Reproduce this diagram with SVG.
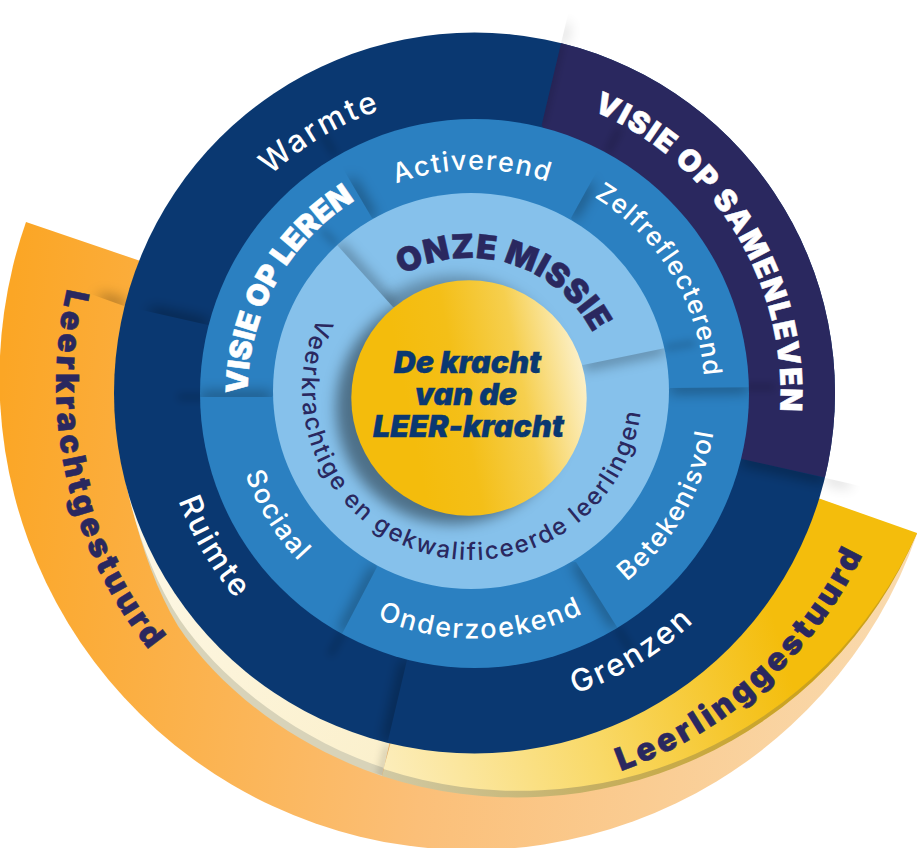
<svg xmlns="http://www.w3.org/2000/svg" width="918" height="848" viewBox="0 0 918 848">
<style>
.sh{stroke:#000;stroke-width:7;stroke-opacity:.5;fill:none;filter:url(#b);stroke-linecap:butt}
.shs{stroke:#000;stroke-width:4;stroke-opacity:.28;fill:none;filter:url(#bs)}
text{font-family:"Inter","Noto Sans","Liberation Sans",sans-serif}
.lab{fill:#fff;font-weight:500;font-size:31px;letter-spacing:2.4px;text-anchor:middle}
.lab2{fill:#fff;font-weight:500;font-size:26px;letter-spacing:1.6px;text-anchor:middle}
.hv{fill:#fff;stroke:#fff;stroke-width:.5px;font-weight:900;font-size:31px;text-anchor:middle}
.pur{fill:#2A285F;stroke:#2A285F;stroke-width:.5px;font-weight:900;font-size:32px;text-anchor:middle}
.mid{fill:#2A285F;font-weight:500;font-size:24px;letter-spacing:1.9px;text-anchor:middle}
.cen{fill:#0A3871;stroke:#0A3871;stroke-width:.4px;font-weight:900;font-style:italic;font-size:30.5px;text-anchor:middle}
</style>
<defs>
<filter id="b" filterUnits="userSpaceOnUse" x="0" y="0" width="918" height="848"><feGaussianBlur stdDeviation="7"/></filter>
<filter id="bs" filterUnits="userSpaceOnUse" x="0" y="0" width="918" height="848"><feGaussianBlur stdDeviation="4"/></filter>
<linearGradient id="gOr" gradientUnits="userSpaceOnUse" x1="0" y1="400" x2="917" y2="500"><stop offset="0" stop-color="#FBA625"/><stop offset=".5" stop-color="#FBBF78"/><stop offset="1" stop-color="#F9DAAE"/></linearGradient>
<linearGradient id="gYe" gradientUnits="userSpaceOnUse" x1="383" y1="760" x2="780" y2="640"><stop offset="0" stop-color="#FCEDBA"/><stop offset=".5" stop-color="#F9D968"/><stop offset="1" stop-color="#F4BD0C"/></linearGradient>
<linearGradient id="gDk" gradientUnits="userSpaceOnUse" x1="383" y1="770" x2="800" y2="640"><stop offset="0" stop-color="#D0C9A4"/><stop offset=".45" stop-color="#C5AF62"/><stop offset="1" stop-color="#CCA21A"/></linearGradient>
<linearGradient id="gCr" gradientUnits="userSpaceOnUse" x1="120" y1="500" x2="390" y2="760"><stop offset="0" stop-color="#FDF8E8"/><stop offset="1" stop-color="#FBF0CC"/></linearGradient>
<linearGradient id="gC" x1=".25" y1=".6" x2="1" y2=".45"><stop offset="0" stop-color="#F4BC0C"/><stop offset=".3" stop-color="#F4BF18"/><stop offset=".65" stop-color="#F6CF4E"/><stop offset="1" stop-color="#FCF0C8"/></linearGradient>
<clipPath id="cOuter"><circle cx="474.5" cy="393" r="360.5"/></clipPath>
<clipPath id="cBlue"><circle cx="474.5" cy="393.5" r="274.5"/></clipPath>
<clipPath id="cLight"><circle cx="471" cy="391" r="198"/></clipPath>
<clipPath id="wPurple"><polygon points="541.7,125 568,14 918,14 918,498 741.7,459"/></clipPath>
<clipPath id="wWarm"><polygon points="208,325 124,306 60,291 60,0 570,0 541.7,125"/></clipPath>
<clipPath id="wRuim"><polygon points="208,325 60,291 60,800 374,800 407,660"/></clipPath>
<clipPath id="wGren"><polygon points="407,660 374,800 900,800 900,495 741.7,459"/></clipPath>
<clipPath id="wVis"><polygon points="272,397 100,397 100,29 261,29 372,218"/></clipPath>
<clipPath id="wAct"><polygon points="372,218 261,29 663,52 571,218"/></clipPath>
<clipPath id="wZel"><polygon points="571,218 663,52 900,52 900,386 670,388"/></clipPath>
<clipPath id="wBet"><polygon points="670,388 900,386 900,757 699,757 576,562"/></clipPath>
<clipPath id="wOnd"><polygon points="576,562 699,757 275,762 377,567"/></clipPath>
<clipPath id="wSoc"><polygon points="377,567 275,762 100,762 100,397 272,397"/></clipPath>
<clipPath id="wMis"><polygon points="393,307 281,183 747,183 747,331 583,365"/></clipPath>
<clipPath id="wLow"><polygon points="393,307 281,183 250,183 250,620 700,620 747,331 583,365"/></clipPath>
<clipPath id="wOrT"><polygon points="124,306 60,283 60,200 200,200"/></clipPath>
<clipPath id="wCr"><path d="M116,420 C124,485 142,566 178,626 C222,692 298,748 384,776 L420,600 Z"/></clipPath>
<path id="t298" d="M0,298A298,298 0 1 1 0,-298A298,298 0 1 1 0,298"/>
<path id="t306" d="M0,306A306,306 0 1 1 0,-306A306,306 0 1 1 0,306"/>
<path id="t224" d="M0,224A224,224 0 1 1 0,-224A224,224 0 1 1 0,224"/>
<path id="t230" d="M0,230A230,230 0 1 1 0,-230A230,230 0 1 1 0,230"/>
<path id="t227" d="M0,227A227,227 0 1 1 0,-227A227,227 0 1 1 0,227"/>
<path id="t140" d="M0,140A140,140 0 1 1 0,-140A140,140 0 1 1 0,140"/>
<path id="b315" d="M0,-315A315,315 0 1 0 0,315A315,315 0 1 0 0,-315"/>
<path id="b317" d="M0,-317A317,317 0 1 0 0,317A317,317 0 1 0 0,-317"/>
<path id="b242" d="M0,-242A242,242 0 1 0 0,242A242,242 0 1 0 0,-242"/>
<path id="b245" d="M0,-245A245,245 0 1 0 0,245A245,245 0 1 0 0,-245"/>
<path id="b243" d="M0,-243A243,243 0 1 0 0,243A243,243 0 1 0 0,-243"/>
<path id="b170" d="M0,-170A170,170 0 1 0 0,170A170,170 0 1 0 0,-170"/>
<path id="b424" d="M0,-424A424,424 0 1 0 0,424A424,424 0 1 0 0,-424"/>
<path id="b425" d="M0,-425A425,425 0 1 0 0,425A425,425 0 1 0 0,-425"/>
</defs>

<g id="outside-shadows">
<g clip-path="url(#wPurple)" opacity=".4"><line class="sh" x1="561" y1="44" x2="566" y2="24"/></g>
<g clip-path="url(#wGren)" opacity=".4"><line class="sh" x1="825" y1="478" x2="850" y2="484"/></g>
</g>

<g id="leerkrachtgestuurd">
<path d="M26,222 A471,471 0 0 0 917,534 L475,375 Z" fill="url(#gOr)"/>
<g clip-path="url(#wOrT)"><line class="sh" x1="100" y1="298" x2="126" y2="306" stroke-opacity=".6"/></g>
<g transform="translate(480,385) rotate(77)"><text class="pur" style="letter-spacing:3.6px"><textPath href="#b424" startOffset="50%">Leerkrachtgestuurd</textPath></text></g>
</g>

<g id="leerlinggestuurd">
<path d="M116,420 C124,485 142,566 178,626 C222,692 298,748 382,776 L420,600 Z" fill="#D8D3B9"/>
<path d="M116,420 C122,480 140,560 180,620 C225,685 300,740 384,768 L420,600 Z" fill="url(#gCr)"/>
<g clip-path="url(#wCr)"><line class="shs" x1="388" y1="745" x2="380" y2="780"/></g>
<path d="M917,533 A435,435 0 0 1 382,776 L430,600 Z" fill="url(#gDk)"/>
<path d="M815,497 L917,533 A435,435 0 0 1 383.5,769 L430,600 Z" fill="url(#gYe)"/>
<g transform="translate(480,370) rotate(-42)"><text class="pur" style="letter-spacing:3.6px"><textPath href="#b425" startOffset="50%">Leerlinggestuurd</textPath></text></g>
</g>

<g id="ring-waarden" clip-path="url(#cOuter)">
<rect width="918" height="848" fill="#0A3871"/>
<polygon id="visie-samenleven" points="541.7,125 568,14 918,14 918,498 741.7,459" fill="#2A285F"/>
<g clip-path="url(#wPurple)"><line class="shs" x1="561" y1="42" x2="541" y2="125"/><line class="shs" x1="607" y1="153" x2="620" y2="128"/><line class="shs" x1="745" y1="387" x2="775" y2="387"/></g>
<g clip-path="url(#wGren)"><line class="sh" x1="741" y1="459" x2="825" y2="478"/><line class="shs" x1="617" y1="627" x2="632" y2="652"/></g>
<g clip-path="url(#wRuim)"><line class="sh" x1="407" y1="660" x2="388" y2="741"/><line class="shs" x1="343" y1="632" x2="330" y2="655"/><line class="shs" x1="205" y1="397" x2="178" y2="397"/></g>
<g clip-path="url(#wWarm)"><line class="sh" x1="208" y1="325" x2="150" y2="312"/><line class="shs" x1="335" y1="155" x2="322" y2="133"/></g>
</g>
<g id="label-warmte" transform="translate(474.5,393) rotate(-30.7)"><text class="lab"><textPath href="#t298" startOffset="50%">Warmte</textPath></text></g>
<g id="label-ruimte" transform="translate(474.5,393) rotate(59.4)"><text class="lab"><textPath href="#b315" startOffset="50%">Ruimte</textPath></text></g>
<g id="label-grenzen" transform="translate(474.5,393) rotate(-31.3)"><text class="lab"><textPath href="#b317" startOffset="50%">Grenzen</textPath></text></g>
<g id="label-samenleven" transform="translate(474.5,393) rotate(58.2)"><text class="hv" style="font-size:30px;letter-spacing:1.6px"><textPath href="#t306" startOffset="50%">VISIE OP SAMENLEVEN</textPath></text></g>

<g id="ring-aanpak" clip-path="url(#cBlue)">
<rect width="918" height="848" fill="#2B80C1"/>
<g clip-path="url(#wVis)"><line class="sh" x1="200" y1="397" x2="272" y2="397"/></g>
<g clip-path="url(#wAct)"><line class="sh" x1="350" y1="180" x2="372" y2="218"/></g>
<g clip-path="url(#wZel)"><line class="sh" x1="590" y1="184" x2="571" y2="218"/></g>
<g clip-path="url(#wBet)"><line class="sh" x1="749" y1="387" x2="670" y2="388"/></g>
<g clip-path="url(#wOnd)"><line class="sh" x1="576" y1="562" x2="617" y2="627"/></g>
<g clip-path="url(#wSoc)"><line class="sh" x1="377" y1="567" x2="343" y2="632"/></g>
<g clip-path="url(#wVis)"><line class="shs" x1="337" y1="245" x2="322" y2="230"/></g>
<g clip-path="url(#wZel)"><line class="shs" x1="665" y1="348" x2="695" y2="343"/></g>
</g>
<g id="label-activerend" transform="translate(474.5,393.5) rotate(-.5)"><text class="lab2" style="font-size:27px"><textPath href="#t224" startOffset="50%">Activerend</textPath></text></g>
<g id="label-zelfreflecterend" transform="translate(474.5,393.5) rotate(58.6)"><text class="lab2"><textPath href="#t230" startOffset="50%" style="letter-spacing:1.2px">Zelfreflecterend</textPath></text></g>
<g id="label-betekenisvol" transform="translate(474.5,393.5) rotate(-60)"><text class="lab2"><textPath href="#b242" startOffset="50%">Betekenisvol</textPath></text></g>
<g id="label-onderzoekend" transform="translate(474.5,393.5) rotate(-1.6)"><text class="lab2" style="font-size:27px;letter-spacing:2px"><textPath href="#b245" startOffset="50%">Onderzoekend</textPath></text></g>
<g id="label-sociaal" transform="translate(474.5,393.5) rotate(58.3)"><text class="lab2" style="font-size:27px"><textPath href="#b243" startOffset="50%">Sociaal</textPath></text></g>
<g id="label-leren" transform="translate(474.5,393.5) rotate(-60.9)"><text class="hv" style="font-size:30px"><textPath href="#t227" startOffset="50%">VISIE OP LEREN</textPath></text></g>

<g id="ring-missie" clip-path="url(#cLight)">
<rect width="918" height="848" fill="#86C1EB"/>
<g clip-path="url(#wMis)"><line class="sh" x1="337" y1="245" x2="393" y2="307"/><circle cx="454" cy="392" r="116" fill="#000" fill-opacity=".28" filter="url(#b)"/></g>
<g clip-path="url(#wLow)"><line class="sh" x1="665" y1="348" x2="583" y2="365"/><circle cx="452" cy="408" r="116" fill="#000" fill-opacity=".42" filter="url(#b)"/></g>
</g>
<g id="label-missie" transform="translate(469,398) rotate(17)"><text class="pur" style="font-size:33px;letter-spacing:.6px"><textPath href="#t140" startOffset="50%">ONZE MISSIE</textPath></text></g>
<g id="label-veerkrachtig" transform="translate(472,390) rotate(16.1)"><text class="mid"><textPath href="#b170" startOffset="50%">Veerkrachtige en gekwalificeerde leerlingen</textPath></text></g>

<g id="kern">
<circle cx="469" cy="398" r="117.7" fill="url(#gC)"/>
<text class="cen" x="467.5" y="372.5">De kracht</text>
<text class="cen" x="466" y="405">van de</text>
<text class="cen" x="468.5" y="436.5">LEER-kracht</text>
</g>
</svg>
